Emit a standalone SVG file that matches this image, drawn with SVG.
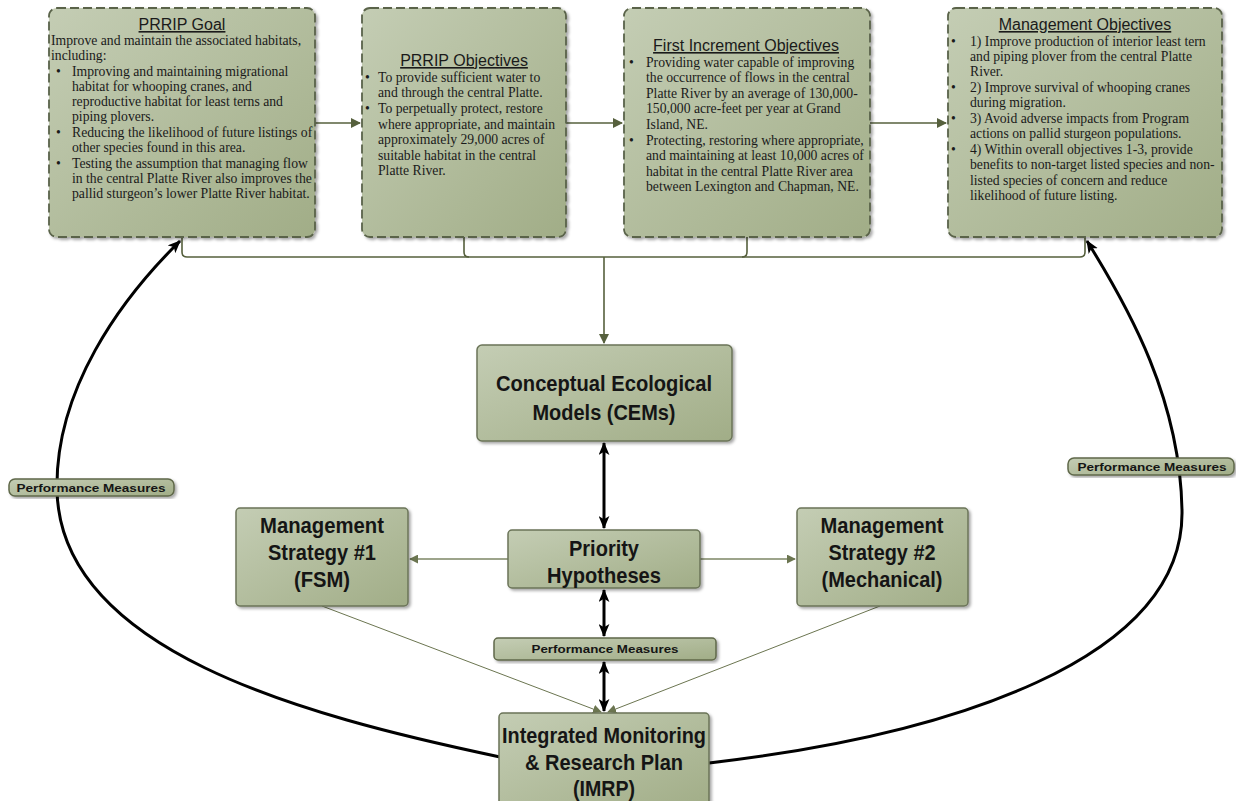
<svg xmlns="http://www.w3.org/2000/svg" width="1236" height="801" viewBox="0 0 1236 801">
<defs>
<linearGradient id="g" x1="0" y1="0" x2="1" y2="1">
<stop offset="0" stop-color="#c4cdb4"/>
<stop offset="1" stop-color="#a1ad87"/>
</linearGradient>
<filter id="sh" x="-10%" y="-10%" width="125%" height="125%">
<feDropShadow dx="2" dy="2" stdDeviation="1.5" flood-color="#000" flood-opacity="0.35"/>
</filter>
<marker id="ao" viewBox="0 0 10 10" refX="9" refY="5" markerWidth="10" markerHeight="10" markerUnits="userSpaceOnUse" orient="auto">
<path d="M0,0 L10,5 L0,10 z" fill="#56603d"/>
</marker>
<marker id="aol" viewBox="0 0 10 10" refX="9" refY="5" markerWidth="9" markerHeight="9" markerUnits="userSpaceOnUse" orient="auto">
<path d="M0,0 L10,5 L0,10 z" fill="#6b7550"/>
</marker>
<marker id="ab" viewBox="0 0 12 10" refX="11" refY="5" markerWidth="13" markerHeight="11" markerUnits="userSpaceOnUse" orient="auto">
<path d="M0,0 L12,5 L0,10 L3,5 z" fill="#000"/>
</marker>
<marker id="abs" viewBox="0 0 12 10" refX="1" refY="5" markerWidth="13" markerHeight="11" markerUnits="userSpaceOnUse" orient="auto">
<path d="M12,0 L0,5 L12,10 L9,5 z" fill="#000"/>
</marker>
</defs>
<style>
.top{fill:url(#g);stroke:#5a634a;stroke-width:1.8;stroke-dasharray:9 4;filter:url(#sh)}
.box{fill:url(#g);stroke:#6b7458;stroke-width:1.5;filter:url(#sh)}
.pm{fill:url(#g);stroke:#5f6849;stroke-width:1.5;filter:url(#sh)}
.ttl{font-family:"Liberation Sans",Arial,sans-serif;font-size:16px;fill:#1a1a1a;text-decoration:underline;text-anchor:middle}
.bd{font-family:"Liberation Serif","Times New Roman",serif;font-size:13.7px;fill:#1a1a1a}
.big{font-family:"Liberation Sans",Arial,sans-serif;font-weight:bold;font-size:22px;fill:#151515;text-anchor:middle}
.sm{font-family:"Liberation Sans",Arial,sans-serif;font-weight:bold;font-size:11.5px;fill:#151515;text-anchor:middle}
.ol{fill:none;stroke:#56603d;stroke-width:1.6}
.olt{fill:none;stroke:#7c8665;stroke-width:1.5}
.thin{fill:none;stroke:#6b7550;stroke-width:1}
.thk{fill:none;stroke:#000;stroke-width:3}
</style>

<g id="connectors">
<path class="ol" d="M315,123 H360" marker-end="url(#ao)"/>
<path class="ol" d="M566,123 H622" marker-end="url(#ao)"/>
<path class="ol" d="M870,123 H946" marker-end="url(#ao)"/>
<path class="ol" d="M182,237 V252 Q182,257 187,257 H1080 Q1085,257 1085,252 V237"/>
<path class="ol" d="M464,237 V252 Q464,257 469,257"/>
<path class="ol" d="M747,237 V252 Q747,257 742,257"/>
<path class="ol" d="M604,257 V343" marker-end="url(#ao)"/>
<path class="thk" d="M604,443 V528" marker-start="url(#abs)" marker-end="url(#ab)"/>
<path class="olt" d="M508,559 H410" marker-end="url(#aol)"/>
<path class="olt" d="M700,559 H795" marker-end="url(#aol)"/>
<path class="thk" d="M604,590 V636" marker-start="url(#abs)" marker-end="url(#ab)"/>
<path class="thk" d="M604,662 V711" marker-start="url(#abs)" marker-end="url(#ab)"/>
<path class="thin" d="M322,606 L601,712" marker-end="url(#aol)"/>
<path class="thin" d="M880,606 L608,712" marker-end="url(#aol)"/>
<path class="thk" d="M500,757 C300,715 60,650 57,490 C55,390 120,300 180,241" marker-end="url(#ab)"/>
<path class="thk" d="M709,763 C950,735 1185,660 1182,510 C1180,400 1130,310 1087,241" marker-end="url(#ab)"/>
</g>

<g id="goal">
<rect class="top" x="49" y="8" width="266" height="229" rx="8"/>
<text class="ttl" x="182" y="30">PRRIP Goal</text>
<text class="bd"><tspan x="51" y="45">Improve and maintain the associated habitats,</tspan><tspan x="51" y="60">including:</tspan>
<tspan x="56" y="76">•</tspan><tspan x="72" y="76">Improving and maintaining migrational</tspan>
<tspan x="72" y="91">habitat for whooping cranes, and</tspan>
<tspan x="72" y="106">reproductive habitat for least terns and</tspan>
<tspan x="72" y="121">piping plovers.</tspan>
<tspan x="56" y="137">•</tspan><tspan x="72" y="137">Reducing the likelihood of future listings of</tspan>
<tspan x="72" y="152">other species found in this area.</tspan>
<tspan x="56" y="168">•</tspan><tspan x="72" y="168">Testing the assumption that managing flow</tspan>
<tspan x="72" y="183">in the central Platte River also improves the</tspan>
<tspan x="72" y="198">pallid sturgeon’s lower Platte River habitat.</tspan></text>
</g>

<g id="prrip-objectives">
<rect class="top" x="362" y="8" width="204" height="229" rx="8"/>
<text class="ttl" x="464" y="66">PRRIP Objectives</text>
<text class="bd"><tspan x="365" y="82">•</tspan><tspan x="378" y="82">To provide sufficient water to</tspan>
<tspan x="378" y="97">and through the central Platte.</tspan>
<tspan x="365" y="113">•</tspan><tspan x="378" y="113">To perpetually protect, restore</tspan>
<tspan x="378" y="129">where appropriate, and maintain</tspan>
<tspan x="378" y="144">approximately 29,000 acres of</tspan>
<tspan x="378" y="160">suitable habitat in the central</tspan>
<tspan x="378" y="175">Platte River.</tspan></text>
</g>

<g id="first-increment">
<rect class="top" x="624" y="8" width="246" height="229" rx="8"/>
<text class="ttl" x="746" y="51">First Increment Objectives</text>
<text class="bd"><tspan x="629" y="67">•</tspan><tspan x="646" y="67">Providing water capable of improving</tspan>
<tspan x="646" y="82">the occurrence of flows in the central</tspan>
<tspan x="646" y="98">Platte River by an average of 130,000-</tspan>
<tspan x="646" y="113">150,000 acre-feet per year at Grand</tspan>
<tspan x="646" y="129">Island, NE.</tspan>
<tspan x="629" y="145">•</tspan><tspan x="646" y="145">Protecting, restoring where appropriate,</tspan>
<tspan x="646" y="160">and maintaining at least 10,000 acres of</tspan>
<tspan x="646" y="176">habitat in the central Platte River area</tspan>
<tspan x="646" y="191">between Lexington and Chapman, NE.</tspan></text>
</g>

<g id="management-objectives">
<rect class="top" x="948" y="8" width="274" height="229" rx="8"/>
<text class="ttl" x="1085" y="30">Management Objectives</text>
<text class="bd"><tspan x="951" y="46">•</tspan><tspan x="970" y="46">1) Improve production of interior least tern</tspan>
<tspan x="970" y="61">and piping plover from the central Platte</tspan>
<tspan x="970" y="76">River.</tspan>
<tspan x="951" y="92">•</tspan><tspan x="970" y="92">2)  Improve survival of whooping cranes</tspan>
<tspan x="970" y="107">during migration.</tspan>
<tspan x="951" y="123">•</tspan><tspan x="970" y="123">3)  Avoid adverse impacts from Program</tspan>
<tspan x="970" y="138">actions on pallid sturgeon populations.</tspan>
<tspan x="951" y="154">•</tspan><tspan x="970" y="154">4)  Within overall objectives 1-3, provide</tspan>
<tspan x="970" y="169">benefits to non-target listed species and non-</tspan>
<tspan x="970" y="185">listed species of concern and reduce</tspan>
<tspan x="970" y="200">likelihood of future listing.</tspan></text>
</g>

<g id="cems">
<rect class="box" x="477" y="345" width="255" height="96" rx="5"/>
<text class="big" x="604" y="391" textLength="216" lengthAdjust="spacingAndGlyphs">Conceptual Ecological</text>
<text class="big" x="604" y="420" textLength="143" lengthAdjust="spacingAndGlyphs">Models (CEMs)</text>
</g>

<g id="priority">
<rect class="box" x="508" y="530" width="192" height="58" rx="4"/>
<text class="big" x="604" y="556" textLength="70" lengthAdjust="spacingAndGlyphs">Priority</text>
<text class="big" x="604" y="583" textLength="114" lengthAdjust="spacingAndGlyphs">Hypotheses</text>
</g>

<g id="strategy1">
<rect class="box" x="236" y="508" width="172" height="98" rx="4"/>
<text class="big" x="322" y="533" textLength="124" lengthAdjust="spacingAndGlyphs">Management</text>
<text class="big" x="322" y="560" textLength="108" lengthAdjust="spacingAndGlyphs">Strategy #1</text>
<text class="big" x="322" y="587" textLength="56" lengthAdjust="spacingAndGlyphs">(FSM)</text>
</g>

<g id="strategy2">
<rect class="box" x="797" y="508" width="171" height="98" rx="4"/>
<text class="big" x="882" y="533" textLength="123" lengthAdjust="spacingAndGlyphs">Management</text>
<text class="big" x="882" y="560" textLength="107" lengthAdjust="spacingAndGlyphs">Strategy #2</text>
<text class="big" x="882" y="587" textLength="121" lengthAdjust="spacingAndGlyphs">(Mechanical)</text>
</g>

<g id="pm-center">
<rect class="pm" x="494" y="638" width="222" height="22" rx="4"/>
<text class="sm" x="605" y="653" textLength="147" lengthAdjust="spacingAndGlyphs">Performance Measures</text>
</g>

<g id="imrp">
<rect class="box" x="499" y="713" width="210" height="96" rx="4"/>
<text class="big" x="604" y="743" textLength="204" lengthAdjust="spacingAndGlyphs">Integrated Monitoring</text>
<text class="big" x="604" y="770" textLength="158" lengthAdjust="spacingAndGlyphs">&amp; Research Plan</text>
<text class="big" x="604" y="796" textLength="62" lengthAdjust="spacingAndGlyphs">(IMRP)</text>
</g>

<g id="pm-left">
<rect class="pm" x="9" y="479" width="165" height="17" rx="6"/>
<text class="sm" x="91" y="491.5" textLength="149" lengthAdjust="spacingAndGlyphs">Performance Measures</text>
</g>

<g id="pm-right">
<rect class="pm" x="1068" y="458" width="166" height="17" rx="6"/>
<text class="sm" x="1152" y="470.5" textLength="149" lengthAdjust="spacingAndGlyphs">Performance Measures</text>
</g>
</svg>
